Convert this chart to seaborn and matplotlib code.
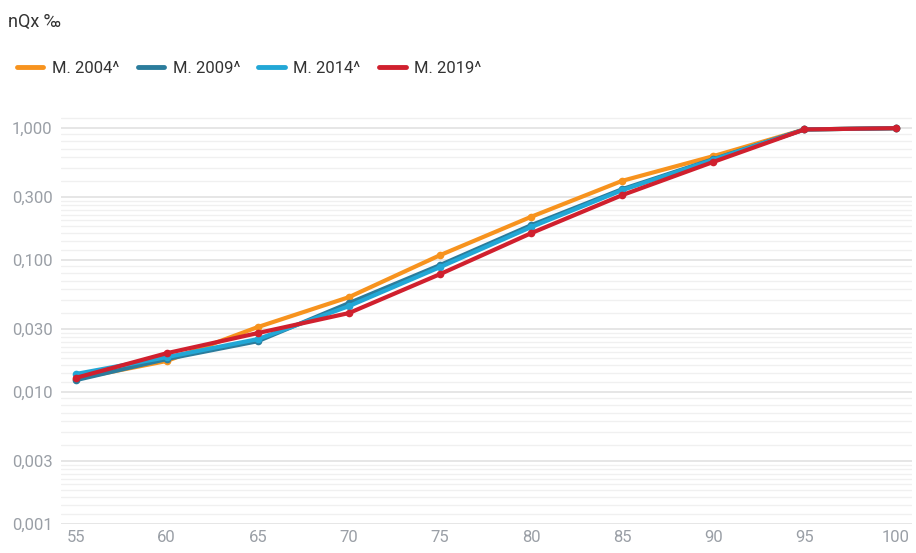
import matplotlib
matplotlib.use("Agg")
import matplotlib.pyplot as plt
from matplotlib.lines import Line2D
from matplotlib.ticker import FixedLocator, NullFormatter
import seaborn as sns
import pandas as pd
import numpy as np

# data (nQx, log scale)
ages = [55, 60, 65, 70, 75, 80, 85, 90, 95, 100]
m2004 = [0.0126, 0.0172, 0.0311, 0.0524, 0.109, 0.213, 0.399, 0.614, 0.978, 1.0]
m2009 = [0.0123, 0.0178, 0.0243, 0.0472, 0.0917, 0.184, 0.345, 0.582, 0.978, 1.0]
m2014 = [0.0137, 0.0184, 0.0252, 0.0448, 0.0885, 0.178, 0.339, 0.577, 0.978, 1.0]
m2019 = [0.0128, 0.0197, 0.0280, 0.0397, 0.0783, 0.160, 0.311, 0.555, 0.978, 1.0]

series_names = ["M. 2004^", "M. 2009^", "M. 2014^", "M. 2019^"]
colors = ["#f7931e", "#2b7c9c", "#22a7d6", "#d0202e"]

ytick_vals = [0.001, 0.003, 0.01, 0.03, 0.1, 0.3, 1.0]
ytick_labels = ["0,001", "0,003", "0,010", "0,030", "0,100", "0,300", "1,000"]

df = pd.DataFrame({
    "age": ages * 4,
    "value": m2004 + m2009 + m2014 + m2019,
    "series": np.repeat(series_names, len(ages)),
})

sns.set_style("white")
plt.rcParams["font.family"] = ["Roboto", "DejaVu Sans"]

fig = plt.figure(figsize=(9.16, 5.53), dpi=100)
ax = fig.add_axes([0.0666, 0.0524, 0.929, 0.743])

sns.lineplot(data=df, x="age", y="value", hue="series", hue_order=series_names,
             palette=colors, marker="o", markersize=5.5, markeredgewidth=0,
             linewidth=3, legend=False, ax=ax)

ax.set_yscale("log")
ax.set_ylim(0.001, 1.3)
ax.set_xlim(54.2, 100.9)

# major ticks at 1 and 3 per decade, minor lines like the reference
ax.yaxis.set_major_locator(FixedLocator(ytick_vals))
ax.set_yticklabels(ytick_labels)
minor = []
for dec in [0.001, 0.01, 0.1, 1.0]:
    for s in [1.2, 1.4, 1.6, 1.8, 2.0, 2.2, 2.4, 2.6, 2.8, 4, 5, 6, 7, 8, 9]:
        if dec * s < 1.3:
            minor.append(dec * s)
ax.yaxis.set_minor_locator(FixedLocator(minor))
ax.yaxis.set_minor_formatter(NullFormatter())
ax.set_xticks(ages)

ax.grid(True, which="major", axis="y", color="#e2e2e2", linewidth=1.2)
ax.grid(True, which="minor", axis="y", color="#f0f0f0", linewidth=1.0)
ax.set_axisbelow(True)
for sp in ax.spines.values():
    sp.set_visible(False)

ax.tick_params(axis="both", which="both", length=0, labelsize=12, labelcolor="#9a9fa6")
ax.tick_params(axis="x", pad=4)
ax.tick_params(axis="y", pad=6)
ax.set_xlabel("")
ax.set_ylabel("")

fig.text(0.009, 0.96, "nQx \u2030", fontsize=13, color="#333333", va="center", ha="left")

handles = [Line2D([0], [0], color=c, linewidth=3.5) for c in colors]
fig.legend(handles, series_names, loc="center left", bbox_to_anchor=(0.002, 0.877),
           ncol=4, frameon=False, fontsize=12, handlelength=1.6, handletextpad=0.5,
           columnspacing=1.1, labelcolor="#333333")

fig.savefig("out.png", dpi=100)
